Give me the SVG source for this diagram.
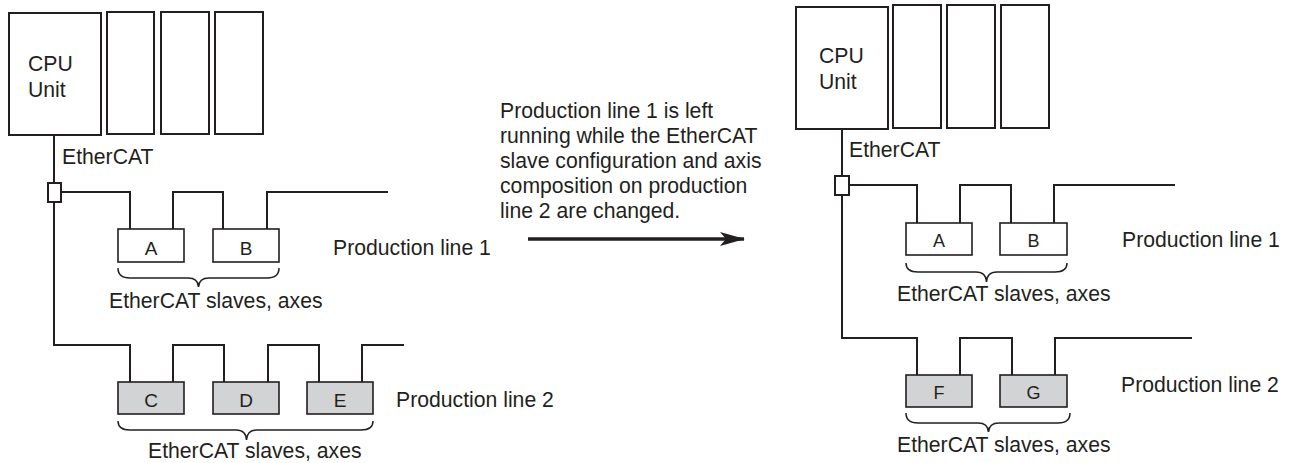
<svg xmlns="http://www.w3.org/2000/svg" width="1294" height="463" viewBox="0 0 1294 463">
<defs>
<style>
.t{font-family:"Liberation Sans",Arial,sans-serif;font-size:21.2px;fill:#231f20}
.l{font-family:"Liberation Sans",Arial,sans-serif;font-size:19px;fill:#231f20;text-anchor:middle}
.l2{font-family:"Liberation Sans",Arial,sans-serif;font-size:18px;fill:#231f20;text-anchor:middle}
.box{fill:#fff;stroke:#231f20;stroke-width:2}
.slave{fill:#fff;stroke:#231f20;stroke-width:1.6}
.gslave{fill:#d1d3d4;stroke:#231f20;stroke-width:1.6}
.w{fill:none;stroke:#231f20;stroke-width:2}
.br{fill:none;stroke:#231f20;stroke-width:1.5}
</style>
<marker id="ah" viewBox="0 0 25 14" refX="24" refY="7" markerWidth="25" markerHeight="14" markerUnits="userSpaceOnUse" orient="auto">
<path d="M0,0 L25,7 L0,14 L6,7 Z" fill="#231f20"/>
</marker>
</defs>
<rect width="1294" height="463" fill="#fff"/>

<g id="connectors">
<path class="w" d="M54,135 V183 M54,202 V345 H130 V382 M173,382 V345 H224 V382 M268,382 V345 H319 V382 M362,382 V345 H404"/>
<path class="w" d="M61,192 H130 V229 M173,229 V192 H223 V229 M267,229 V192 H388"/>
<path class="w" d="M842,129 V176 M842,195 V338 H917 V375 M960,375 V338 H1012 V375 M1055,375 V338 H1192"/>
<path class="w" d="M849,185 H917 V223 M960,223 V185 H1011 V223 M1054,223 V185 H1175"/>
<path class="br" d="M118,268 Q118,278 130,278 H188 Q198,278 198.5,287 Q199,278 209,278 H267 Q279,278 279,268"/>
<path class="br" d="M118,421 Q118,430 130,430 H236 Q246,430 246.5,440 Q247,430 257,430 H361 Q373,430 373,421"/>
<path class="br" d="M906,263 Q906,272 918,272 H976 Q986,272 986.5,282 Q987,272 997,272 H1055 Q1067,272 1067,263"/>
<path class="br" d="M906,413 Q906,423 918,423 H978 Q988,423 988.5,432 Q989,423 999,423 H1058 Q1070,423 1070,413"/>
<line x1="528" y1="239" x2="744" y2="239" stroke="#231f20" stroke-width="3.5" marker-end="url(#ah)"/>
</g>

<g id="left-cpu">
<rect class="box" x="9" y="13" width="92" height="122"/>
<text class="t" x="28" y="71">CPU</text>
<text class="t" x="28" y="97">Unit</text>
</g>
<g id="left-slot1"><rect class="box" x="107" y="12" width="47" height="122"/></g>
<g id="left-slot2"><rect class="box" x="161" y="12" width="48" height="122"/></g>
<g id="left-slot3"><rect class="box" x="215" y="12" width="48" height="122"/></g>
<g id="left-junction"><rect class="box" x="48" y="183" width="13" height="19" stroke-width="1.6"/></g>
<g id="left-ethercat-label"><text class="t" x="62" y="164">EtherCAT</text></g>

<g id="left-A"><rect class="slave" x="118" y="229" width="66" height="33"/><text class="l" x="151" y="255">A</text></g>
<g id="left-B"><rect class="slave" x="213" y="229" width="66" height="33"/><text class="l" x="246" y="255">B</text></g>
<g id="left-C"><rect class="gslave" x="118" y="382" width="66" height="32"/><text class="l" x="151" y="407">C</text></g>
<g id="left-D"><rect class="gslave" x="213" y="382" width="66" height="32"/><text class="l" x="246" y="407">D</text></g>
<g id="left-E"><rect class="gslave" x="307" y="382" width="66" height="32"/><text class="l" x="340" y="407">E</text></g>

<g id="left-labels">
<text class="t" x="333" y="255">Production line 1</text>
<text class="t" x="109" y="308">EtherCAT slaves, axes</text>
<text class="t" x="396" y="407">Production line 2</text>
<text class="t" x="148" y="458">EtherCAT slaves, axes</text>
</g>

<g id="middle-note">
<text class="t" x="500" y="118">Production line 1 is left</text>
<text class="t" x="500" y="143">running while the EtherCAT</text>
<text class="t" x="500" y="168">slave configuration and axis</text>
<text class="t" x="500" y="193">composition on production</text>
<text class="t" x="500" y="218">line 2 are changed.</text>
</g>

<g id="right-cpu">
<rect class="box" x="796" y="7" width="92" height="122"/>
<text class="t" x="819" y="63">CPU</text>
<text class="t" x="819" y="89">Unit</text>
</g>
<g id="right-slot1"><rect class="box" x="893" y="5" width="48" height="123"/></g>
<g id="right-slot2"><rect class="box" x="947" y="5" width="48" height="123"/></g>
<g id="right-slot3"><rect class="box" x="1001" y="5" width="48" height="123"/></g>
<g id="right-junction"><rect class="box" x="835" y="176" width="14" height="19" stroke-width="1.6"/></g>
<g id="right-ethercat-label"><text class="t" x="849" y="157">EtherCAT</text></g>

<g id="right-A"><rect class="slave" x="906" y="223" width="66" height="32"/><text class="l2" x="939" y="247">A</text></g>
<g id="right-B"><rect class="slave" x="1000" y="223" width="67" height="32"/><text class="l2" x="1033.5" y="247">B</text></g>
<g id="right-F"><rect class="gslave" x="906" y="375" width="66" height="32"/><text class="l2" x="939" y="399">F</text></g>
<g id="right-G"><rect class="gslave" x="1000" y="375" width="67" height="32"/><text class="l2" x="1033.5" y="399">G</text></g>

<g id="right-labels">
<text class="t" x="1122" y="247">Production line 1</text>
<text class="t" x="897" y="301">EtherCAT slaves, axes</text>
<text class="t" x="1121" y="392">Production line 2</text>
<text class="t" x="897" y="452">EtherCAT slaves, axes</text>
</g>
</svg>
